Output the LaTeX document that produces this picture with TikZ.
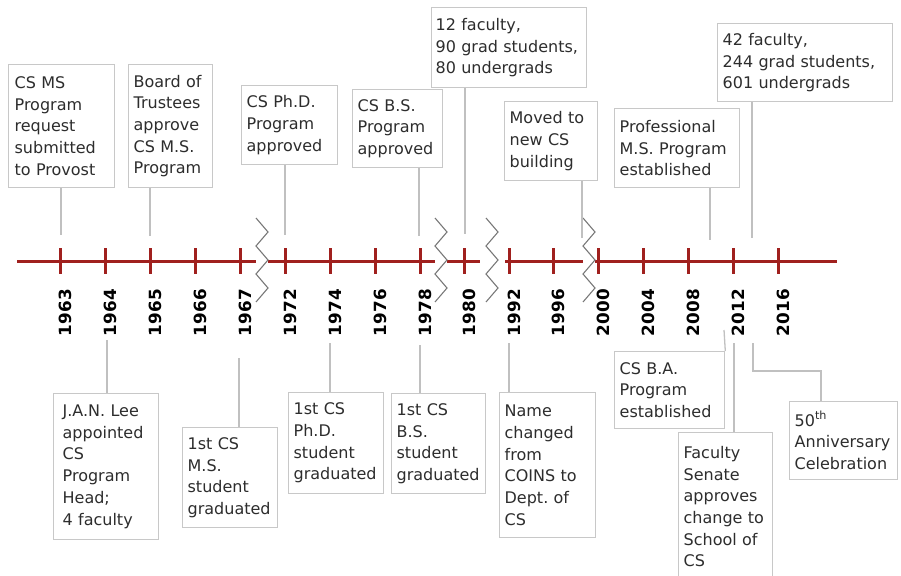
\documentclass[tikz,border=0pt]{standalone}
\usepackage{fontspec}
\setmainfont{DejaVu Sans}
\usepackage{tikz}

\definecolor{axisred}{RGB}{160,32,30}
\definecolor{boxgray}{RGB}{200,200,200}
\definecolor{linegray}{RGB}{192,192,192}
\definecolor{brkgray}{RGB}{120,120,120}
\definecolor{txtgray}{RGB}{45,45,45}

% zigzag mark where the time axis is cut
\newcommand{\axisbreak}[1]{%
  \draw[brkline] (#1-6,218) -- ++(12,14) -- ++(-12,14) -- ++(12,14)
    -- ++(-12,14) -- ++(12,14) -- ++(-12,14);}

\begin{document}
\begin{tikzpicture}[x=1pt,y=-1pt,semithick,
  axis/.style={draw=axisred,line width=3pt},
  brkline/.style={draw=brkgray,line width=1.1pt},
  conn/.style={draw=linegray,line width=1.3pt},
  evt/.style={draw=boxgray,line width=1.3pt,fill=white,anchor=north west,align=left,
    inner xsep=5pt,inner ysep=0pt,text=txtgray,font=\fontsize{16}{21.7}\selectfont},
  yr/.style={rotate=90,anchor=east,inner sep=0pt,text=black,
    font=\bfseries\fontsize{16.8}{18}\selectfont}]
  \useasboundingbox (0,0) rectangle (901,575);
  \clip (0,0) rectangle (901,575);

  % axis pieces, ticks and years
  \foreach \a/\b in {17/256,268/435,447/480,505/583,595/837}
    \draw[axis] (\a,261) -- (\b,261);
  \foreach \c in {262,441,492,589} {\axisbreak{\c}}
  \foreach \yr/\xx in {1963/60,1964/105,1965/150,1966/195,1967/240,1972/285,1974/330,
      1976/375,1978/420,1980/464,1992/509,1996/553,2000/598,2004/643,2008/688,2012/733,2016/778}{
    \draw[axis] (\xx,248) -- (\xx,274);
    \node[yr] (y\yr) at (\xx+5,289) {\yr};
  }

  % ends of the connectors
  \coordinate (c63) at (61,235);
  \coordinate (c65) at (150,236);
  \coordinate (c72) at (285,235);
  \coordinate (c78) at (419,236);
  \coordinate (c80) at (465,234);
  \coordinate (c99) at (582,238);
  \coordinate (c10) at (710,240);
  \coordinate (c13) at (752,238);
  \coordinate (c64) at (107,340);
  \coordinate (c67) at (239,358);
  \coordinate (c74) at (330,343);
  \coordinate (c78b) at (420,345);
  \coordinate (c92) at (509,343);
  \coordinate (c11) at (724,330);
  \coordinate (c12) at (734,343);
  \coordinate (c14) at (753,343);
  \coordinate (bend) at (821,371);

  % events above the axis
  \node[evt,text width=94pt,inner xsep=6pt,minimum height=123pt] (msreq) at (8,64)
    {CS MS\\Program\\request\\submitted\\to Provost};
  \node[evt,text width=74pt,minimum height=123pt] (board) at (128,64)
    {Board of\\Trustees\\approve\\CS M.S.\\Program};
  \node[evt,text width=86pt,minimum height=79pt] (phdprog) at (241,85)
    {CS Ph.D.\\Program\\approved};
  \node[evt,text width=80pt,minimum height=78pt] (bsprog) at (352,89)
    {CS B.S.\\Program\\approved};
  \node[evt,text width=147pt,inner xsep=4pt,minimum height=80pt] (stats80) at (431,7)
    {12 faculty,\\90 grad students,\\80 undergrads};
  \node[evt,text width=83pt,minimum height=79pt] (moved) at (504,101)
    {Moved to\\new CS\\building};
  \node[evt,text width=115pt,minimum height=79pt] (profms) at (614,108)
    {Professional\\M.S. Program\\established};
  \node[evt,text width=165pt,minimum height=78pt] (stats13) at (717,23)
    {42 faculty,\\244 grad students,\\601 undergrads};

  % events below the axis
  \node[evt,text width=87pt,inner xsep=9pt,minimum height=146pt] (lee) at (53,393)
    {J.A.N. Lee\\appointed\\CS\\Program\\Head;\\4 faculty};
  \node[evt,text width=85pt,minimum height=100pt] (msgrad) at (182,427)
    {1st CS\\M.S.\\student\\graduated};
  \node[evt,text width=85pt,minimum height=101pt] (phdgrad) at (288,392)
    {1st CS\\Ph.D.\\student\\graduated};
  \node[evt,text width=84pt,minimum height=100pt] (bsgrad) at (391,393)
    {1st CS\\B.S.\\student\\graduated};
  \node[evt,text width=86pt,minimum height=145pt] (rename) at (499,392)
    {Name\\changed\\from\\COINS to\\Dept.\ of\\CS};
  \node[evt,text width=100pt,minimum height=77pt] (baprog) at (614,351)
    {CS B.A.\\Program\\established};
  \node[evt,text width=84pt,minimum height=148pt] (school) at (678,432)
    {Faculty\\Senate\\approves\\change to\\School of\\CS};
  \node[evt,text width=98pt,minimum height=78pt] (fifty) at (789,401)
    {50\textsuperscript{th}\\Anniversary\\Celebration};

  \draw[conn] (c63 |- msreq.south) -- (c63);
  \draw[conn] (c65 |- board.south) -- (c65);
  \draw[conn] (c72 |- phdprog.south) -- (c72);
  \draw[conn] (c78 |- bsprog.south) -- (c78);
  \draw[conn] (c80 |- stats80.south) -- (c80);
  \draw[conn] (c99 |- moved.south) -- (c99);
  \draw[conn] (c10 |- profms.south) -- (c10);
  \draw[conn] (c13 |- stats13.south) -- (c13);

  \draw[conn] (c64) -- (c64 |- lee.north);
  \draw[conn] (c67) -- (c67 |- msgrad.north);
  \draw[conn] (c74) -- (c74 |- phdgrad.north);
  \draw[conn] (c78b) -- (c78b |- bsgrad.north);
  \draw[conn] (c92) -- (c92 |- rename.north);
  \draw[conn] (c11) -- (baprog.north east);
  \draw[conn,line width=2.2pt] (c12) -- (c12 |- school.north);
  \draw[conn] (c14) |- (bend) -- (bend |- fifty.north);
\end{tikzpicture}
\end{document}
